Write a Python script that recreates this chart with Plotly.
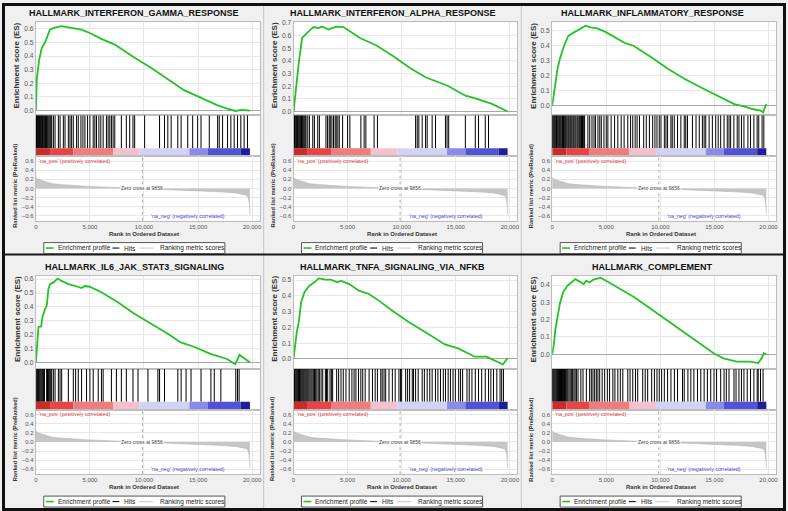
import plotly.graph_objects as go

# ---------------- DATA ----------------
titles = ["HALLMARK_INTERFERON_GAMMA_RESPONSE", "HALLMARK_INTERFERON_ALPHA_RESPONSE",
          "HALLMARK_INFLAMMATORY_RESPONSE", "HALLMARK_IL6_JAK_STAT3_SIGNALING",
          "HALLMARK_TNFA_SIGNALING_VIA_NFKB", "HALLMARK_COMPLEMENT"]

gamma_rank = [0, 90, 300, 550, 850, 1150, 1300, 1750, 2400, 3150, 4200, 5000, 6050, 7300, 9100,
              10650, 12150, 13700, 15250, 16750, 17700, 18450, 19050, 19500, 19800]
gamma_es = [0, 0.23, 0.37, 0.46, 0.50, 0.56, 0.595, 0.61, 0.62, 0.61, 0.595, 0.57, 0.527, 0.485, 0.39,
            0.315, 0.234, 0.15, 0.095, 0.04, 0.015, -0.003, 0.005, 0.0, 0.0]

alpha_rank = [0, 275, 490, 795, 1100, 1560, 1865, 2320, 2630, 3240, 3545, 4000, 4615, 5230, 6150,
              7680, 9200, 10730, 12260, 14250, 15900, 16830, 17750, 18350, 19800]
alpha_es = [0, 0.243, 0.386, 0.582, 0.61, 0.648, 0.668, 0.66, 0.672, 0.648, 0.66, 0.672, 0.668, 0.635, 0.582,
            0.522, 0.439, 0.347, 0.269, 0.204, 0.125, 0.104, 0.078, 0.06, 0.0]

infl_rank = [0, 275, 490, 705, 1100, 1500, 2020, 2630, 3090, 3550, 4160, 4920, 6150, 6760, 7520, 9200,
             10730, 12260, 13760, 15290, 16830, 17750, 18500, 19270, 19500, 19800]
infl_es = [0, 0.133, 0.243, 0.31, 0.398, 0.465, 0.487, 0.513, 0.531, 0.52, 0.513, 0.49, 0.442, 0.415, 0.398,
           0.32, 0.243, 0.177, 0.121, 0.066, 0.011, -0.005, -0.022, -0.033, -0.044, 0.01]

il6_rank = [0, 122, 245, 490, 610, 855, 1010, 1165, 1310, 1620, 2020, 2385, 3000, 3610, 4220, 4525, 4985,
            6055, 7590, 9110, 10640, 12170, 13395, 14615, 16150, 17680, 18440, 18840, 19360, 19800]
il6_es = [0, 0.173, 0.256, 0.26, 0.327, 0.386, 0.41, 0.528, 0.564, 0.576, 0.604, 0.587, 0.564, 0.552, 0.536,
          0.55, 0.545, 0.505, 0.434, 0.351, 0.28, 0.209, 0.145, 0.114, 0.062, 0.026, -0.012, 0.055, 0.026, 0.0]

tnfa_rank = [0, 120, 305, 490, 705, 1010, 1470, 1930, 2325, 3000, 3460, 4065, 4370, 5140, 6055, 6970,
             7890, 9110, 10640, 12170, 14000, 15230, 16760, 17830, 18290, 19200, 19360, 19800]
tnfa_es = [0, 0.067, 0.171, 0.234, 0.36, 0.423, 0.465, 0.486, 0.511, 0.503, 0.503, 0.486, 0.497, 0.475,
           0.433, 0.412, 0.37, 0.307, 0.234, 0.171, 0.092, 0.067, 0.014, 0.014, 0.0, -0.027, -0.035, 0.005]

comp_rank = [0, 155, 305, 490, 705, 1010, 1400, 1770, 2140, 2540, 2910, 3150, 3460, 3760, 4470, 5140,
             6055, 7590, 9110, 10640, 12170, 13700, 14930, 15840, 17060, 18290, 19050, 19360, 19570, 19800]
comp_es = [0, 0.057, 0.149, 0.225, 0.291, 0.358, 0.396, 0.415, 0.434, 0.42, 0.406, 0.425, 0.415, 0.43,
           0.443, 0.419, 0.386, 0.329, 0.263, 0.196, 0.129, 0.063, 0.006, -0.023, -0.042, -0.042, -0.051,
           -0.023, 0.006, 0.0]

gamma_hits = [20, 70, 120, 170, 230, 290, 350, 410, 470, 540, 610, 680, 750, 820, 900, 980, 1060, 1140,
              1230, 1320, 1400, 1470, 1625, 1780, 2085, 2240, 2545, 2700, 3005, 3160, 3310, 3465, 3770,
              3925, 4170, 4355, 4540, 4785, 5000, 5305, 5460, 5610, 5830, 6010, 6225, 6530, 6685, 6840,
              6990, 7145, 7300, 7910, 8370, 8680, 8985, 9140, 10060, 11440, 11900, 12205, 12515, 13125,
              13435, 14045, 14505, 14965, 15275, 16040, 16810, 16960, 17270, 17730, 18035, 18340, 18650,
              18955, 19260, 19570]
alpha_hits = [30, 90, 150, 220, 290, 360, 430, 500, 580, 660, 740, 820, 900, 990, 1080, 1160, 1320, 1470,
              1780, 1930, 2240, 2390, 3000, 3150, 3300, 3400, 3550, 3700, 3850, 3950, 4100, 4230, 4540,
              5000, 5210, 6230, 6530, 6690, 7450, 7760, 11290, 11440, 11590, 11900, 12210, 12360, 12820,
              13130, 14050, 14200, 14350, 15890, 16810, 17110, 17730, 18030]
infl_hits = [20, 90, 170, 240, 330, 400, 470, 560, 650, 720, 800, 890, 960, 1050, 1120, 1210, 1290, 1380,
             1480, 1560, 1660, 1740, 1830, 1930, 2010, 2110, 2200, 2310, 2400, 2510, 2600, 2710, 2800,
             2910, 3000, 3300, 3470, 3680, 3865, 4000, 4230, 4400, 4540, 4785, 5000, 5150, 5450, 5770,
             6070, 6380, 6650, 6990, 7250, 7450, 7670, 7850, 8070, 8460, 8700, 8990, 9290, 9500, 9690,
             9900, 10060, 10370, 10520, 10670, 10980, 11100, 11290, 11590, 11900, 12210, 12350, 12510,
             12970, 13300, 13600, 13890, 14050, 14200, 14510, 14810, 15120, 15350, 15580, 15890, 16190,
             16350, 16500, 16800, 17110, 17270, 17500, 17730, 18100, 18340, 18650, 18950, 19100, 19410,
             19570]
il6_hits = [30, 100, 170, 240, 320, 400, 480, 560, 640, 700, 800, 1000, 1080, 1160, 1240, 1320, 1400, 1470,
            1620, 1780, 2085, 2240, 2390, 3005, 3465, 3680, 3925, 4230, 4690, 5000, 5305, 5770, 6070, 6225,
            6990, 7450, 7910, 8370, 8985, 9450, 10370, 11290, 11440, 11900, 13130, 13435, 13890, 14350,
            15275, 16190, 16500, 17110, 18490, 18650, 18800]
tnfa_hits = [20, 90, 160, 240, 310, 390, 470, 550, 630, 710, 800, 880, 960, 1050, 1140, 1230, 1320, 1420,
             1520, 1620, 1720, 1830, 1940, 2050, 2160, 2280, 2390, 2550, 2700, 2945, 3050, 3160, 3375, 3500,
             3620, 3990, 4170, 4390, 4600, 4850, 5150, 5400, 5600, 5770, 6010, 6225, 6400, 6625, 6990, 7300,
             7550, 7760, 8070, 8200, 8370, 8525, 8830, 9140, 9400, 9750, 9900, 10000, 10370, 10550, 10735,
             10980, 11100, 11290, 11530, 11900, 12100, 12360, 12600, 12820, 13125, 13350, 13590, 13850,
             14050, 14300, 14510, 14750, 14965, 15275, 15450, 15640, 16040, 16250, 16500, 16810, 17110,
             17400, 17730, 18035, 18250, 18490, 18800, 19100, 19250, 19410]
comp_hits = [20, 100, 180, 260, 340, 420, 500, 590, 680, 770, 860, 950, 1040, 1140, 1240, 1340, 1440, 1550,
             1660, 1770, 1890, 2010, 2120, 2240, 2390, 2650, 2850, 3160, 3465, 3620, 3770, 3925, 4080, 4230,
             4390, 4620, 4850, 5100, 5305, 5610, 5800, 6070, 6300, 6530, 6990, 7200, 7450, 7700, 7910, 8370,
             8600, 8830, 9200, 9450, 9690, 9900, 10120, 10370, 10670, 10980, 11300, 11590, 12050, 12210,
             12550, 12820, 13100, 13435, 13740, 14050, 14350, 14660, 14965, 15200, 15580, 15890, 16100,
             16350, 16810, 17000, 17270, 17500, 17730, 18035, 18340, 18650, 18955, 19050, 19260, 19500]

metric_rank = [0, 100, 300, 550, 1000, 1500, 2200, 3000, 4500, 6000, 7500, 9000, 9856, 11000, 12500,
               14000, 15500, 17000, 18500, 19200, 19500, 19650, 19730, 19780, 19800]
metric_val = [0.25, 0.21, 0.19, 0.17, 0.13, 0.105, 0.085, 0.07, 0.05, 0.033, 0.02, 0.007, 0.0, -0.01,
              -0.025, -0.04, -0.058, -0.075, -0.1, -0.125, -0.15, -0.2, -0.3, -0.45, -0.58]
zero_cross = 9856

band_edges = [0, 1320, 3465, 7145, 9600, 14200, 15890, 18955, 19800]
band_colors = ['#cc2b2b', '#e84444', '#f07c7c', '#f7c0cf', '#d2d2f6', '#8a8ae8', '#5252d6', '#1e1e9c']

x_ticks = [0, 5000, 10000, 15000, 20000]
x_tick_text = ['0', '5,000', '10,000', '15,000', '20,000']

panel_rank = [gamma_rank, alpha_rank, infl_rank, il6_rank, tnfa_rank, comp_rank]
panel_es = [gamma_es, alpha_es, infl_es, il6_es, tnfa_es, comp_es]
panel_hits = [gamma_hits, alpha_hits, infl_hits, il6_hits, tnfa_hits, comp_hits]

# ---------------- STYLE / LAYOUT ----------------
W, H = 788, 511
FONT = "Liberation Sans"
GREEN = '#22c322'
GRID = '#e8e8e8'
BORDER = '#bdbdbd'
es_ranges = [[-0.035, 0.648], [-0.03, 0.705], [-0.064, 0.553],
             [-0.045, 0.623], [-0.063, 0.527], [-0.084, 0.453]]
MET_RANGE = [-0.71, 0.71]
X_RANGE = [0, 20700]
COL_L = [34, 293, 553]
COL_C = [133, 392.5, 653.5]
PLOT_W = 225
ROW_DY = [0, 255]
CB_FRAC = 8 / 41.0


def fx(px):
    return px / W


def fy(py):
    return 1 - py / H


def sfx(k):
    return '' if k == 1 else str(k)


def note(text, x, y, size, color, xanchor='center', angle=0, **kw):
    return dict(text=text, xref='paper', yref='paper', x=x, y=y, xanchor=xanchor, yanchor='middle',
                textangle=angle, showarrow=False, font=dict(family=FONT, size=size, color=color), **kw)


fig = go.Figure()
layout = {}
annotations = []
shapes = []

# panel separators / frame
for xs in [263, 522]:
    shapes.append(dict(type='line', xref='paper', yref='paper', x0=fx(xs), x1=fx(xs), y0=0, y1=1,
                       line=dict(color='#c4c4c4', width=1)))
shapes.append(dict(type='line', xref='paper', yref='paper', x0=0, x1=1, y0=fy(253), y1=fy(253),
                   line=dict(color='#1a1a1a', width=2)))
shapes.append(dict(type='rect', xref='paper', yref='paper', x0=fx(1.5), x1=fx(786.5), y0=fy(509.5),
                   y1=fy(1.5), line=dict(color='#111111', width=3)))

band_w = [b - a for a, b in zip(band_edges[:-1], band_edges[1:])]

for p in range(6):
    r, c = divmod(p, 3)
    dy = ROW_DY[r]
    L = COL_L[c]
    R = L + PLOT_W
    dx = L - 34
    k1, k2, k3 = 3 * p + 1, 3 * p + 2, 3 * p + 3

    # ES curve
    fig.add_trace(go.Scatter(x=panel_rank[p], y=panel_es[p], mode='lines',
                             line=dict(color=GREEN, width=1.8), showlegend=False,
                             xaxis='x' + sfx(k1), yaxis='y' + sfx(k1)))
    # hits
    hx, hy = [], []
    for h in panel_hits[p]:
        hx += [h, h, None]
        hy += [CB_FRAC, 1, None]
    fig.add_trace(go.Scatter(x=hx, y=hy, mode='lines', line=dict(color='black', width=1),
                             showlegend=False, xaxis='x' + sfx(k2), yaxis='y' + sfx(k2)))
    # colour band
    fig.add_trace(go.Bar(x=band_w, base=band_edges[:-1], y=[CB_FRAC / 2] * len(band_w),
                         orientation='h', width=CB_FRAC, marker=dict(color=band_colors, line=dict(width=0)),
                         showlegend=False, xaxis='x' + sfx(k2), yaxis='y' + sfx(k2)))
    # ranked metric
    fig.add_trace(go.Scatter(x=metric_rank, y=metric_val, mode='lines', fill='tozeroy',
                             fillcolor='#c6c6c6', line=dict(color='#b4b4b4', width=0.6),
                             showlegend=False, xaxis='x' + sfx(k3), yaxis='y' + sfx(k3)))

    common_x = dict(range=X_RANGE, domain=[fx(L), fx(R)], showline=True, mirror=True, linecolor=BORDER,
                    linewidth=1, zeroline=False, ticks='', tickvals=x_ticks, ticktext=x_tick_text)
    layout['xaxis' + sfx(k1)] = dict(common_x, anchor='y' + sfx(k1), showticklabels=False,
                                     showgrid=True, gridcolor=GRID)
    layout['yaxis' + sfx(k1)] = dict(domain=[fy(113 + dy), fy(19.5 + dy)], range=es_ranges[p],
                                     anchor='x' + sfx(k1), dtick=0.1, tick0=0, tickformat='.1f',
                                     tickfont=dict(family=FONT, size=6.7, color='#555'),
                                     showgrid=True, gridcolor=GRID, zeroline=True, zerolinecolor='#a8a8a8',
                                     zerolinewidth=1, showline=True, mirror=True, linecolor=BORDER, ticks='')
    layout['xaxis' + sfx(k2)] = dict(common_x, anchor='y' + sfx(k2), showticklabels=False, showgrid=False)
    layout['yaxis' + sfx(k2)] = dict(domain=[fy(154 + dy), fy(113 + dy)], range=[0, 1],
                                     anchor='x' + sfx(k2), showticklabels=False, showgrid=False,
                                     zeroline=False, showline=True, mirror=True, linecolor=BORDER, ticks='')
    layout['xaxis' + sfx(k3)] = dict(common_x, anchor='y' + sfx(k3), showticklabels=True,
                                     showgrid=True, gridcolor=GRID,
                                     tickfont=dict(family=FONT, size=6, color='#555'))
    layout['yaxis' + sfx(k3)] = dict(domain=[fy(219 + dy), fy(154 + dy)], range=MET_RANGE,
                                     anchor='x' + sfx(k3), dtick=0.2, tick0=0, tickformat='.1f',
                                     tickfont=dict(family=FONT, size=6, color='#555'),
                                     showgrid=True, gridcolor=GRID, zeroline=False,
                                     showline=True, mirror=True, linecolor=BORDER, ticks='')

    # zero-cross dashed line
    shapes.append(dict(type='line', xref='x' + sfx(k3), yref='y' + sfx(k3) + ' domain',
                       x0=zero_cross, x1=zero_cross, y0=0, y1=1,
                       line=dict(color='#9a9a9a', width=0.8, dash='dot')))

    # texts
    annotations.append(note('<b>%s</b>' % titles[p], fx(COL_C[c]), fy(10.5 + dy), 9, '#111'))
    annotations.append(note('<b>Enrichment score (ES)</b>', fx(15 + dx), fy(63 + dy), 8, '#333', angle=-90))
    annotations.append(note('<b>Ranked list metric (PreRanked)</b>', fx(13 + dx), fy(184 + dy), 5.7,
                            '#333', angle=-90))
    annotations.append(note('<b>Rank in Ordered Dataset</b>', fx(L + 109), fy(232 + dy), 6, '#333'))
    annotations.append(note("'na_pos' (positively correlated)", fx(L + 1), fy(158.5 + dy), 5.3,
                            '#e04040', xanchor='left'))
    annotations.append(note("'na_neg' (negatively correlated)", fx(L + 192), fy(214 + dy), 5.3,
                            '#4646dc', xanchor='right'))
    annotations.append(dict(text='Zero cross at %d' % zero_cross, xref='x' + sfx(k3), yref='y' + sfx(k3),
                            x=zero_cross, y=0, xanchor='center', yanchor='middle', showarrow=False,
                            bgcolor='rgba(255,255,255,0.85)', borderpad=0,
                            font=dict(family=FONT, size=5, color='#444')))

    # custom legend
    ly = 246.5 + dy
    shapes.append(dict(type='rect', xref='paper', yref='paper', x0=fx(L + 8), x1=fx(L + 190),
                       y0=fy(252 + dy), y1=fy(241 + dy), fillcolor='white',
                       line=dict(color='#555', width=1)))
    for (x0, x1, col, w) in [(L + 10, L + 18, GREEN, 1.6), (L + 77, L + 84, '#222', 1.2),
                             (L + 104, L + 118, '#d0d0d0', 1.2)]:
        shapes.append(dict(type='line', xref='paper', yref='paper', x0=fx(x0), x1=fx(x1),
                           y0=fy(ly), y1=fy(ly), line=dict(color=col, width=w)))
    for (tx, txt) in [(L + 20, 'Enrichment profile'), (L + 87, 'Hits'), (L + 123, 'Ranking metric scores')]:
        annotations.append(note(txt, fx(tx), fy(ly), 6.5, '#222', xanchor='left'))

fig.update_layout(width=W, height=H, margin=dict(l=0, r=0, t=0, b=0), autosize=False,
                  paper_bgcolor='#f0f0f0', plot_bgcolor='white', barmode='overlay',
                  showlegend=False, annotations=annotations, shapes=shapes, **layout)
fig.write_html("out.html")
